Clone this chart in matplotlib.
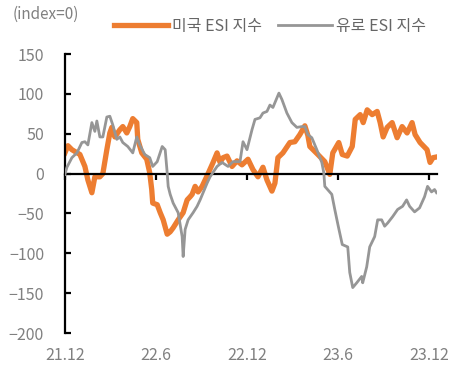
import matplotlib
matplotlib.use('Agg')
import matplotlib.pyplot as plt
import matplotlib.dates as mdates
import matplotlib.transforms as mtransforms
import pandas as pd

plt.rcParams['font.family'] = ['Noto Sans CJK KR', 'DejaVu Sans']

# 미국 ESI 지수
us_dates = [
    '2021-12-01', '2021-12-07', '2021-12-15', '2021-12-31', '2022-01-10', '2022-01-16',
    '2022-01-24', '2022-01-30', '2022-02-09', '2022-02-15', '2022-02-23', '2022-03-01',
    '2022-03-05', '2022-03-11', '2022-03-21', '2022-03-27', '2022-04-04', '2022-04-10',
    '2022-04-16', '2022-04-24', '2022-04-26', '2022-05-04', '2022-05-14', '2022-05-20',
    '2022-05-24', '2022-05-26', '2022-06-04', '2022-06-10', '2022-06-16', '2022-06-24',
    '2022-06-30', '2022-07-06', '2022-07-16', '2022-07-26', '2022-08-03', '2022-08-09',
    '2022-08-13', '2022-08-19', '2022-08-25', '2022-09-02', '2022-09-08', '2022-09-14',
    '2022-09-24', '2022-10-02', '2022-10-08', '2022-10-14', '2022-10-22', '2022-11-01',
    '2022-11-11', '2022-11-21', '2022-12-03', '2022-12-13', '2022-12-23', '2023-01-02',
    '2023-01-10', '2023-01-20', '2023-01-26', '2023-02-01', '2023-02-11', '2023-02-25',
    '2023-03-07', '2023-03-17', '2023-03-27', '2023-04-02', '2023-04-06', '2023-04-22',
    '2023-05-06', '2023-05-16', '2023-05-22', '2023-06-03', '2023-06-10', '2023-06-20',
    '2023-06-30', '2023-07-06', '2023-07-16', '2023-07-22', '2023-07-30', '2023-08-09',
    '2023-08-19', '2023-08-25', '2023-08-31', '2023-09-08', '2023-09-18', '2023-09-28',
    '2023-10-08', '2023-10-18', '2023-10-28', '2023-11-03', '2023-11-13', '2023-11-27',
    '2023-12-03', '2023-12-09', '2023-12-17',
]
us_esi = [
    26, 35, 30, 24, 9, -8,
    -24, -4, -4, 0, 30, 51,
    58, 46, 55, 59, 51, 59,
    69, 64, 43, 26, 18, 1,
    -20, -37, -39, -49, -58, -76,
    -73, -68, -58, -49, -33, -29,
    -26, -16, -23, -16, -8, 0,
    14, 26, 14, 20, 22, 9,
    16, 11, 18, 5, -4, 8,
    -8, -22, -12, 20, 26, 39,
    40, 49, 60, 48, 34, 24,
    15, -1, 26, 39, 24, 22,
    34, 68, 74, 64, 80, 74,
    78, 64, 46, 58, 64, 45,
    59, 51, 64, 49, 39, 30,
    14, 20, 21,
]

# 유로 ESI 지수
eu_dates = [
    '2021-12-01', '2021-12-05', '2021-12-15', '2021-12-25', '2022-01-04', '2022-01-10',
    '2022-01-16', '2022-01-24', '2022-01-30', '2022-02-03', '2022-02-09', '2022-02-15',
    '2022-02-23', '2022-03-01', '2022-03-07', '2022-03-15', '2022-03-21', '2022-03-27',
    '2022-04-06', '2022-04-16', '2022-04-24', '2022-04-30', '2022-05-10', '2022-05-20',
    '2022-05-26', '2022-06-04', '2022-06-14', '2022-06-20', '2022-06-24', '2022-06-26',
    '2022-06-30', '2022-07-06', '2022-07-16', '2022-07-24', '2022-07-26', '2022-07-30',
    '2022-08-05', '2022-08-15', '2022-08-23', '2022-08-29', '2022-09-04', '2022-09-12',
    '2022-09-18', '2022-10-02', '2022-10-12', '2022-10-24', '2022-11-03', '2022-11-17',
    '2022-11-23', '2022-12-01', '2022-12-11', '2022-12-17', '2022-12-27', '2023-01-02',
    '2023-01-10', '2023-01-16', '2023-01-22', '2023-02-03', '2023-02-09', '2023-02-19',
    '2023-03-01', '2023-03-11', '2023-03-21', '2023-03-27', '2023-04-02', '2023-04-10',
    '2023-04-20', '2023-04-30', '2023-05-04', '2023-05-06', '2023-05-20', '2023-05-26',
    '2023-06-02', '2023-06-10', '2023-06-21', '2023-06-25', '2023-07-01', '2023-07-09',
    '2023-07-19', '2023-07-21', '2023-07-29', '2023-08-04', '2023-08-14', '2023-08-20',
    '2023-08-28', '2023-09-03', '2023-09-09', '2023-09-19', '2023-09-29', '2023-10-09',
    '2023-10-17', '2023-10-23', '2023-11-02', '2023-11-12', '2023-11-22', '2023-11-28',
    '2023-12-06', '2023-12-12', '2023-12-16',
]
eu_esi = [
    -1, 8, 20, 26, 39, 40,
    36, 64, 53, 66, 46, 46,
    71, 72, 61, 43, 46, 39,
    34, 26, 46, 36, 24, 20,
    9, 15, 34, 30, 1, -16,
    -26, -37, -49, -79, -104, -70,
    -58, -49, -41, -33, -24, -12,
    -4, 9, 14, 9, 15, 15,
    40, 30, 55, 68, 70, 76,
    78, 86, 83, 101, 93, 76,
    64, 58, 59, 59, 49, 45,
    30, 14, 1, -16, -26, -45,
    -66, -89, -92, -124, -143, -137,
    -129, -137, -117, -92, -79, -58,
    -58, -66, -62, -54, -45, -41,
    -33, -41, -48, -43, -29, -16,
    -23, -20, -24,
]

x_ticks = ['2021-12-01', '2022-06-01', '2022-12-01', '2023-06-01', '2023-12-01']
x_tick_labels = ['21.12', '22.6', '22.12', '23.6', '23.12']
y_ticks = [150, 100, 50, 0, -50, -100, -150, -200]

text_color = '#808080'

fig = plt.figure(figsize=(4.74, 3.78), dpi=100)
ax = fig.add_axes([0.137, 0.119, 0.785, 0.738])

ax.plot(pd.to_datetime(us_dates), us_esi, color='#ED7D31', lw=3.8,
        solid_joinstyle='round', label='미국 ESI 지수', zorder=2)
ax.plot(pd.to_datetime(eu_dates), eu_esi, color='#969696', lw=2.0,
        label='유로 ESI 지수', zorder=3)

ax.set_ylim(-200, 150)
ax.set_xlim(pd.Timestamp('2021-12-01'), pd.Timestamp('2023-12-17'))
ax.set_yticks(y_ticks)
ax.set_yticklabels([str(v).replace('-', '\u2212') for v in y_ticks])

for s in ['top', 'right']:
    ax.spines[s].set_visible(False)
ax.spines['bottom'].set_position(('data', 0))
ax.spines['left'].set_linewidth(1.6)
ax.spines['bottom'].set_linewidth(1.6)

ax.tick_params(axis='y', direction='in', length=4, width=1.6, pad=15,
               labelsize=11.5, labelcolor=text_color)
tick_pos = pd.to_datetime(x_ticks)
ax.set_xticks(tick_pos)
ax.tick_params(axis='x', direction='out', length=4, width=1.6, labelbottom=False)

trans = mtransforms.blended_transform_factory(ax.transData, ax.transAxes)
for d, lab in zip(tick_pos, x_tick_labels):
    ax.text(mdates.date2num(d), -0.08, lab, transform=trans, ha='center', va='center',
            fontsize=11.5, color=text_color)

fig.text(0.027, 0.962, '(index=0)', ha='left', va='center', fontsize=11, color=text_color)

leg = fig.legend(loc='center', bbox_to_anchor=(0.57, 0.93), ncol=2, frameon=False,
                 handlelength=3.4, handletextpad=0.25, columnspacing=1.0, fontsize=11.5)
for t in leg.get_texts():
    t.set_color('#666666')

fig.savefig('out.png', dpi=100)
